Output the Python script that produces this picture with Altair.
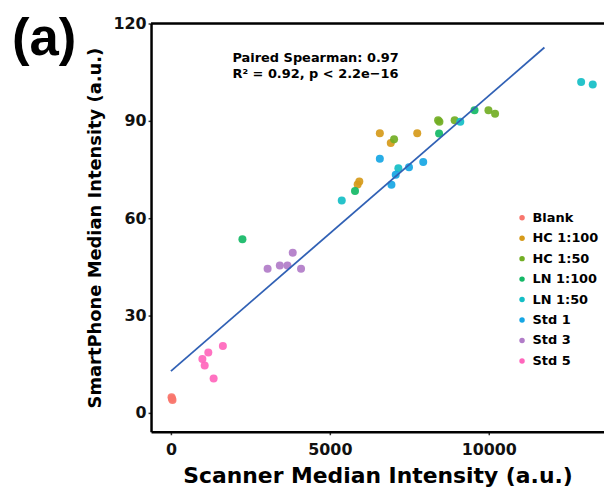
import altair as alt
import pandas as pd

# ---- data ----
groups = ["Blank", "HC 1:100", "HC 1:50", "LN 1:100", "LN 1:50", "Std 1", "Std 3", "Std 5"]
colors = ["#F8766D", "#D69A1A", "#72AE24", "#14B866", "#14BEC6", "#16A6E4", "#B17CC8", "#FF66BC"]

blank_x = [20, 50, 35]
blank_y = [4.8, 4.0, 4.4]
hc100_x = [6573, 7750, 6917, 5875, 5927]
hc100_y = [86.2, 86.2, 83.2, 70.4, 71.3]
hc50_x = [7021, 8406, 8448, 8927, 9990, 10198]
hc50_y = [84.3, 90.2, 89.7, 90.2, 93.3, 92.2]
ln100_x = [8437, 9552, 5792, 2250]
ln100_y = [86.1, 93.3, 68.4, 53.5]
ln50_x = [5375, 7156, 9104, 12906, 13271]
ln50_y = [65.5, 75.4, 89.7, 102.0, 101.2]
std1_x = [6573, 7938, 7490, 7073, 6938]
std1_y = [78.3, 77.3, 75.7, 73.4, 70.3]
std3_x = [3042, 3427, 3667, 3833, 4094]
std3_y = [44.4, 45.4, 45.4, 49.4, 44.4]
std5_x = [1635, 1177, 990, 1063, 1344]
std5_y = [20.6, 18.6, 16.6, 14.6, 10.6]

fit_x = [0, 11750]
fit_y = [12.9, 112.6]

x_ticks = [0, 5000, 10000]
y_ticks = [0, 30, 60, 90, 120]

series = [
    ("Blank", blank_x, blank_y),
    ("HC 1:100", hc100_x, hc100_y),
    ("HC 1:50", hc50_x, hc50_y),
    ("LN 1:100", ln100_x, ln100_y),
    ("LN 1:50", ln50_x, ln50_y),
    ("Std 1", std1_x, std1_y),
    ("Std 3", std3_x, std3_y),
    ("Std 5", std5_x, std5_y),
]
rows = []
for g, xs, ys in series:
    for a, b in zip(xs, ys):
        rows.append({"group": g, "scanner": a, "phone": b})
df = pd.DataFrame(rows)
fit_df = pd.DataFrame({"scanner": fit_x, "phone": fit_y})

FONT = "DejaVu Sans"
W, H = 456, 411

xscale = alt.Scale(domain=[-625, 13625], nice=False, zero=False)
yscale = alt.Scale(domain=[-5.8, 120], nice=False, zero=False)

xaxis = alt.Axis(title="Scanner Median Intensity (a.u.)", values=x_ticks, grid=False, format="d",
                 labelFont=FONT, labelFontSize=16, labelFontWeight="bold", labelColor="#111",
                 titleFont=FONT, titleFontSize=22, titleFontWeight="bold", titleColor="#000",
                 domainColor="#000", domainWidth=2.5, tickColor="#333", tickSize=3, tickWidth=1.5,
                 labelPadding=7, titlePadding=8)
yaxis = alt.Axis(title="SmartPhone Median Intensity (a.u.)", values=y_ticks, grid=False, format="d",
                 labelFont=FONT, labelFontSize=16, labelFontWeight="bold", labelColor="#111",
                 titleFont=FONT, titleFontSize=18, titleFontWeight="bold", titleColor="#000",
                 domainColor="#000", domainWidth=2.5, tickColor="#333", tickSize=3, tickWidth=1.5,
                 labelPadding=2, titlePadding=8)

points = alt.Chart(df).mark_circle(size=65, opacity=0.92).encode(
    x=alt.X("scanner:Q", scale=xscale, axis=xaxis),
    y=alt.Y("phone:Q", scale=yscale, axis=yaxis),
    color=alt.Color("group:N", scale=alt.Scale(domain=groups, range=colors),
                    legend=alt.Legend(title=None, orient="none", legendX=367, legendY=189,
                                      symbolType="circle", symbolSize=30, symbolOpacity=1,
                                      labelFont=FONT, labelFontSize=13, labelFontWeight="bold",
                                      labelColor="#000", labelOffset=4, rowPadding=6.6, padding=0)),
)

fit = alt.Chart(fit_df).mark_line(color="#3161B5", strokeWidth=1.8).encode(
    x=alt.X("scanner:Q", scale=xscale),
    y=alt.Y("phone:Q", scale=yscale),
)

top_border = alt.Chart(pd.DataFrame({"a": [0]})).mark_rule(color="#000", strokeWidth=2.5).encode(
    x=alt.value(0), x2=alt.value(W), y=alt.value(0)
)

ann1 = alt.Chart(pd.DataFrame({"t": ["Paired Spearman: 0.97"]})).mark_text(
    font=FONT, fontSize=13, fontWeight="bold", align="left", baseline="alphabetic", color="#000"
).encode(text="t:N", x=alt.value(82), y=alt.value(39))
ann2 = alt.Chart(pd.DataFrame({"t": ["R\u00b2 = 0.92, p < 2.2e\u221216"]})).mark_text(
    font=FONT, fontSize=13, fontWeight="bold", align="left", baseline="alphabetic", color="#000"
).encode(text="t:N", x=alt.value(82), y=alt.value(55))

panel = alt.Chart(pd.DataFrame({"t": ["(a)"]})).mark_text(
    font="Liberation Sans", fontSize=53, fontWeight="bold", align="left", baseline="alphabetic", color="#000"
).encode(text="t:N", x=alt.value(-140), y=alt.value(32))

chart = alt.layer(points, fit, top_border, ann1, ann2, panel).properties(
    width=W, height=H, autosize="none",
    padding={"left": 144, "top": 14, "right": 0, "bottom": 57},
).configure_view(stroke=None).configure(background="white")

chart.save("out.html", embed_options={"renderer": "svg", "actions": False})
